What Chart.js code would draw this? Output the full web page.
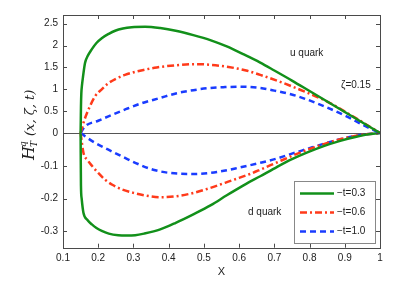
<!DOCTYPE html>
<html>
<head>
<meta charset="utf-8">
<script src="https://cdn.jsdelivr.net/npm/chart.js@4.4.1/dist/chart.umd.min.js"></script>
<style>
  html, body { margin: 0; padding: 0; background: #fff; }
  #c { display: block; }
</style>
</head>
<body>
<canvas id="c" width="409" height="281"></canvas>
<script>
// --- data ---
// u quark, -t = 0.3 / 0.6 / 1.0
const uX03 = [0.15, 0.1505, 0.151, 0.152, 0.154, 0.157, 0.1625, 0.17, 0.182, 0.195, 0.21, 0.23, 0.248, 0.27, 0.295, 0.333, 0.376, 0.42, 0.47, 0.52, 0.565, 0.61, 0.66, 0.7, 0.75, 0.8, 0.85, 0.9, 0.95, 1.0];
const uY03 = [0, 0.3, 0.6, 0.9, 1.1, 1.3, 1.6, 1.76, 1.92, 2.06, 2.17, 2.27, 2.34, 2.39, 2.42, 2.43, 2.4, 2.34, 2.24, 2.12, 1.98, 1.81, 1.61, 1.43, 1.2, 0.96, 0.72, 0.48, 0.24, 0];
const uX06 = [0.15, 0.16, 0.172, 0.191, 0.21, 0.229, 0.25, 0.276, 0.333, 0.366, 0.42, 0.475, 0.52, 0.57, 0.62, 0.66, 0.72, 0.773, 0.85, 0.915, 0.96, 1.0];
const uY06 = [0, 0.28, 0.53, 0.84, 1.0, 1.14, 1.24, 1.33, 1.45, 1.5, 1.55, 1.575, 1.56, 1.51, 1.43, 1.33, 1.16, 0.99, 0.72, 0.42, 0.2, 0];
const uX10 = [0.15, 0.1625, 0.2, 0.229, 0.28, 0.323, 0.375, 0.423, 0.47, 0.517, 0.56, 0.603, 0.66, 0.7, 0.754, 0.83, 0.905, 0.96, 1.0];
const uY10 = [0, 0.15, 0.28, 0.38, 0.55, 0.68, 0.8, 0.91, 0.98, 1.03, 1.05, 1.06, 1.03, 0.97, 0.87, 0.65, 0.38, 0.15, 0];
// d quark
const dX03 = [0.15, 0.1503, 0.1507, 0.151, 0.153, 0.158, 0.17, 0.182, 0.195, 0.21, 0.23, 0.257, 0.28, 0.305, 0.33, 0.376, 0.42, 0.47, 0.52, 0.565, 0.593, 0.62, 0.66, 0.707, 0.75, 0.792, 0.84, 0.887, 0.93, 0.962, 1.0];
const dY03 = [0, -0.06, -0.12, -0.16, -0.2, -0.243, -0.266, -0.279, -0.29, -0.299, -0.307, -0.312, -0.313, -0.312, -0.307, -0.294, -0.274, -0.248, -0.22, -0.19, -0.172, -0.155, -0.132, -0.104, -0.08, -0.06, -0.04, -0.024, -0.012, -0.005, 0];
const dX06 = [0.15, 0.158, 0.17, 0.182, 0.2, 0.219, 0.24, 0.267, 0.305, 0.33, 0.376, 0.423, 0.47, 0.517, 0.56, 0.6, 0.631, 0.66, 0.707, 0.75, 0.792, 0.84, 0.887, 0.94, 1.0];
const dY06 = [0, -0.06, -0.083, -0.1, -0.122, -0.142, -0.158, -0.172, -0.184, -0.19, -0.196, -0.193, -0.183, -0.168, -0.152, -0.137, -0.125, -0.112, -0.09, -0.07, -0.052, -0.034, -0.019, -0.007, 0];
const dX10 = [0.15, 0.1625, 0.191, 0.229, 0.276, 0.305, 0.356, 0.404, 0.47, 0.537, 0.603, 0.66, 0.707, 0.75, 0.792, 0.84, 0.887, 0.94, 1.0];
const dY10 = [0, -0.01, -0.03, -0.051, -0.076, -0.091, -0.112, -0.122, -0.125, -0.119, -0.105, -0.091, -0.078, -0.063, -0.049, -0.033, -0.019, -0.007, 0];

const seriesLabels = ['\u2212t=0.3', '\u2212t=0.6', '\u2212t=1.0'];
const xTickValues = [0.1, 0.2, 0.3, 0.4, 0.5, 0.6, 0.7, 0.8, 0.9, 1];
const xTickLabels = ['0.1', '0.2', '0.3', '0.4', '0.5', '0.6', '0.7', '0.8', '0.9', '1'];
const yTickValues = [-0.3, -0.2, -0.1, 0, 0.5, 1, 1.5, 2, 2.5];
const yTickLabels = ['-0.3', '-0.2', '-0.1', '0', '0.5', '1', '1.5', '2', '2.5'];

// the y axis is split: the positive part is squeezed 7.5 times
const UPPER_SQUEEZE = 7.5;
const toAxis = v => v > 0 ? v / UPPER_SQUEEZE : v;

const GREEN = '#12901a';
const RED = '#ff3a1a';
const BLUE = '#1a3cff';
const styles = [
    { color: GREEN, dash: [] },
    { color: RED, dash: [7, 3, 2, 3] },
    { color: BLUE, dash: [6, 4] }
];

function pts(xs, ys) {
    return xs.map((x, i) => ({ x: x, y: toAxis(ys[i]) }));
}

function makeSet(xs, ys, k, inLegend) {
    return {
        label: seriesLabels[k],
        data: pts(xs, ys),
        borderColor: styles[k].color,
        borderDash: styles[k].dash,
        borderWidth: 2.5,
        pointRadius: 0,
        fill: false,
        cubicInterpolationMode: 'monotone',
        inLegend: inLegend
    };
}

const datasets = [
    makeSet(uX03, uY03, 0, true),
    makeSet(uX06, uY06, 1, true),
    makeSet(uX10, uY10, 2, true),
    makeSet(dX03, dY03, 0, false),
    makeSet(dX06, dY06, 1, false),
    makeSet(dX10, dY10, 2, false)
];

// box, inner ticks, zero line, annotations, legend and y title
const framePlugin = {
    id: 'frame',
    beforeDatasetsDraw(chart) {
        const { ctx, chartArea: a, scales } = chart;
        const y0 = scales.y.getPixelForValue(0);
        ctx.save();
        ctx.strokeStyle = '#555';
        ctx.lineWidth = 1;
        ctx.beginPath();
        ctx.moveTo(a.left, Math.round(y0) + 0.5);
        ctx.lineTo(a.right, Math.round(y0) + 0.5);
        ctx.stroke();
        ctx.restore();
    },
    afterDraw(chart) {
        const { ctx, chartArea: a, scales } = chart;
        ctx.save();
        ctx.strokeStyle = '#4a4a4a';
        ctx.lineWidth = 1;
        ctx.strokeRect(Math.round(a.left) + 0.5, Math.round(a.top) + 0.5,
            Math.round(a.right - a.left), Math.round(a.bottom - a.top));
        const tl = 4;
        ctx.beginPath();
        xTickValues.forEach(v => {
            const px = Math.round(scales.x.getPixelForValue(v)) + 0.5;
            ctx.moveTo(px, a.bottom); ctx.lineTo(px, a.bottom - tl);
            ctx.moveTo(px, a.top); ctx.lineTo(px, a.top + tl);
        });
        yTickValues.forEach(v => {
            const py = Math.round(scales.y.getPixelForValue(toAxis(v))) + 0.5;
            ctx.moveTo(a.left, py); ctx.lineTo(a.left + tl, py);
            ctx.moveTo(a.right, py); ctx.lineTo(a.right - tl, py);
        });
        ctx.stroke();

        // text notes
        ctx.fillStyle = '#222';
        ctx.font = '10px "Liberation Sans", Arial, sans-serif';
        ctx.textBaseline = 'middle';
        ctx.textAlign = 'left';
        ctx.fillText('u quark', 290, 53);
        ctx.fillText('\u03b6=0.15', 341, 85);
        ctx.fillText('d quark', 248, 212);

        // legend
        const lx = 294, ly = 181, lw = 81, lh = 62;
        ctx.fillStyle = '#fff';
        ctx.fillRect(lx, ly, lw, lh);
        ctx.strokeStyle = '#888';
        ctx.strokeRect(lx + 0.5, ly + 0.5, lw, lh);
        const rows = chart.data.datasets.filter(d => d.inLegend);
        rows.forEach((d, i) => {
            const ry = ly + 12.5 + i * 19;
            ctx.strokeStyle = d.borderColor;
            ctx.lineWidth = 2.5;
            ctx.setLineDash(d.borderDash);
            ctx.beginPath();
            ctx.moveTo(300, ry);
            ctx.lineTo(334, ry);
            ctx.stroke();
            ctx.setLineDash([]);
            ctx.fillStyle = '#222';
            ctx.fillText(d.label, 337, ry);
        });

        // y title  H_T^q (x, ζ, t)
        ctx.translate(33.5, 160);
        ctx.rotate(-Math.PI / 2);
        ctx.fillStyle = '#222';
        ctx.textBaseline = 'alphabetic';
        ctx.font = 'italic 16px "DejaVu Serif", "Liberation Serif", serif';
        ctx.fillText('H', 0, 0);
        ctx.font = 'italic 9px "DejaVu Serif", "Liberation Serif", serif';
        ctx.fillText('q', 13, -8);
        ctx.fillText('T', 13, 3);
        ctx.font = 'italic 13px "DejaVu Serif", "Liberation Serif", serif';
        ctx.fillText('(x, \u03b6, t)', 24, 0);
        ctx.restore();
    }
};

new Chart(document.getElementById('c'), {
    type: 'line',
    data: { datasets: datasets },
    options: {
        responsive: false,
        animation: false,
        devicePixelRatio: 1,
        layout: { padding: { top: 15, right: 29, left: 0, bottom: 0 } },
        plugins: { legend: { display: false }, tooltip: { enabled: false } },
        scales: {
            x: {
                type: 'linear',
                min: 0.1,
                max: 1,
                grid: { display: false, drawTicks: false },
                border: { display: false },
                afterBuildTicks: s => { s.ticks = xTickValues.map(v => ({ value: v })); },
                afterFit: s => { s.height = 33.3; },
                ticks: {
                    padding: 5,
                    color: '#222',
                    font: { size: 10, family: '"Liberation Sans", Arial, sans-serif' },
                    maxRotation: 0,
                    autoSkip: false,
                    callback: (v, i) => xTickLabels[i]
                },
                title: {
                    display: true,
                    text: 'X',
                    color: '#222',
                    font: { size: 11, family: '"Liberation Sans", Arial, sans-serif' },
                    padding: { top: 0, bottom: 2 }
                }
            },
            y: {
                type: 'linear',
                min: -0.35,
                max: 2.7 / UPPER_SQUEEZE,
                grid: { display: false, drawTicks: false },
                border: { display: false },
                afterBuildTicks: s => { s.ticks = yTickValues.map(v => ({ value: toAxis(v) })); },
                afterFit: s => { s.width = 63; },
                ticks: {
                    padding: 5,
                    color: '#222',
                    font: { size: 10, family: '"Liberation Sans", Arial, sans-serif' },
                    autoSkip: false,
                    callback: (v, i) => yTickLabels[i]
                }
            }
        }
    },
    plugins: [framePlugin]
});
</script>
</body>
</html>
